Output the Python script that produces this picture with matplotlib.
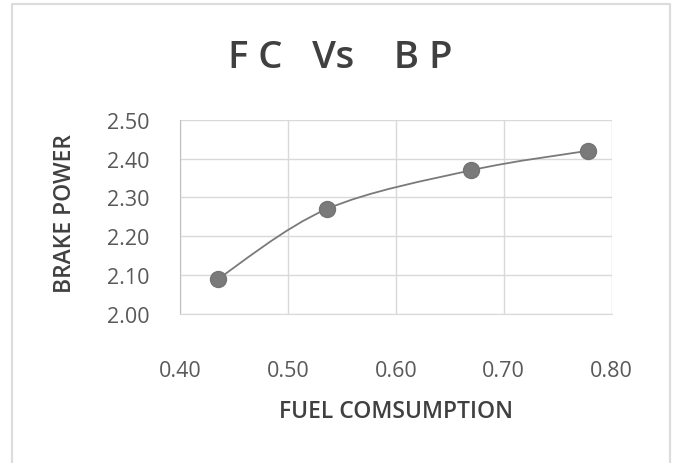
import matplotlib
matplotlib.use("Agg")
import matplotlib.pyplot as plt
from matplotlib.path import Path
from matplotlib.patches import PathPatch
from matplotlib.lines import Line2D
import numpy as np

fuel_consumption = [0.435, 0.536, 0.670, 0.778]
brake_power = [2.09, 2.27, 2.37, 2.42]
x_ticks = [0.40, 0.50, 0.60, 0.70, 0.80]
y_ticks = [2.00, 2.10, 2.20, 2.30, 2.40, 2.50]
title = "F C   Vs    B P"
x_label = "FUEL COMSUMPTION"
y_label = "BRAKE POWER"

plt.rcParams['font.family'] = ['Open Sans', 'DejaVu Sans']

W, H = 673, 464
fig = plt.figure(figsize=(W / 100, H / 100), dpi=100)
# outer chart border (left, top, right; bottom runs off the image)
bx0, bx1, by0 = 12 / W, 670 / W, 1 - 5 / H
fig.add_artist(Line2D([bx0, bx0, bx1, bx1], [0, by0, by0, 0], transform=fig.transFigure,
                      color='#dcdcdc', linewidth=1.6))

ax = fig.add_axes([180 / W, 1 - 315 / H, (611.7 - 180) / W, (315 - 120.7) / H])

ax.set_xlim(0.40, 0.80)
ax.set_ylim(2.00, 2.50)
ax.set_xticks(x_ticks)
ax.set_yticks(y_ticks)
ax.set_xticklabels([f"{v:.2f}" for v in x_ticks])
ax.set_yticklabels([f"{v:.2f}" for v in y_ticks])
ax.tick_params(length=0, labelsize=15.5, colors='#595959')
ax.tick_params(axis='x', pad=33)
ax.tick_params(axis='y', pad=22)
ax.grid(True, color='#d9d9d9', linewidth=1.0)
ax.set_axisbelow(True)
for s in ['top', 'right']:
    ax.spines[s].set_visible(False)
ax.spines['bottom'].set_color('#d9d9d9')
ax.spines['left'].set_color('#bfbfbf')

# smoothed line (Catmull-Rom style Bezier through data points)
x = np.array(fuel_consumption)
y = np.array(brake_power)
pts = np.column_stack([x, y])
verts = [tuple(pts[0])]
codes = [Path.MOVETO]
n = len(pts)
t = 1 / 6
for i in range(n - 1):
    p0 = pts[i - 1] if i > 0 else pts[i]
    p1 = pts[i]
    p2 = pts[i + 1]
    p3 = pts[i + 2] if i + 2 < n else pts[i + 1]
    c1 = p1 + (p2 - p0) * t
    c2 = p2 - (p3 - p1) * t
    verts += [tuple(c1), tuple(c2), tuple(p2)]
    codes += [Path.CURVE4] * 3
ax.add_patch(PathPatch(Path(verts, codes), fill=False, edgecolor='#7a7a7a', linewidth=1.3, zorder=3))
ax.plot(fuel_consumption, brake_power, linestyle='none', marker='o', markersize=11.5,
        color='#7a7a7a', markeredgecolor='#747474', zorder=4)

fig.text(340 / W, 1 - 58 / H, title, ha='center', va='center', fontsize=27.5,
         fontweight='semibold', color='#404040')
fig.text(396 / W, 1 - 412 / H, x_label, ha='center', va='center', fontsize=16.5,
         fontweight='semibold', color='#404040')
fig.text(65 / W, 1 - 214 / H, y_label, ha='center', va='center', rotation=90, fontsize=16.5,
         fontweight='semibold', color='#404040')

fig.savefig("out.png", dpi=100)
